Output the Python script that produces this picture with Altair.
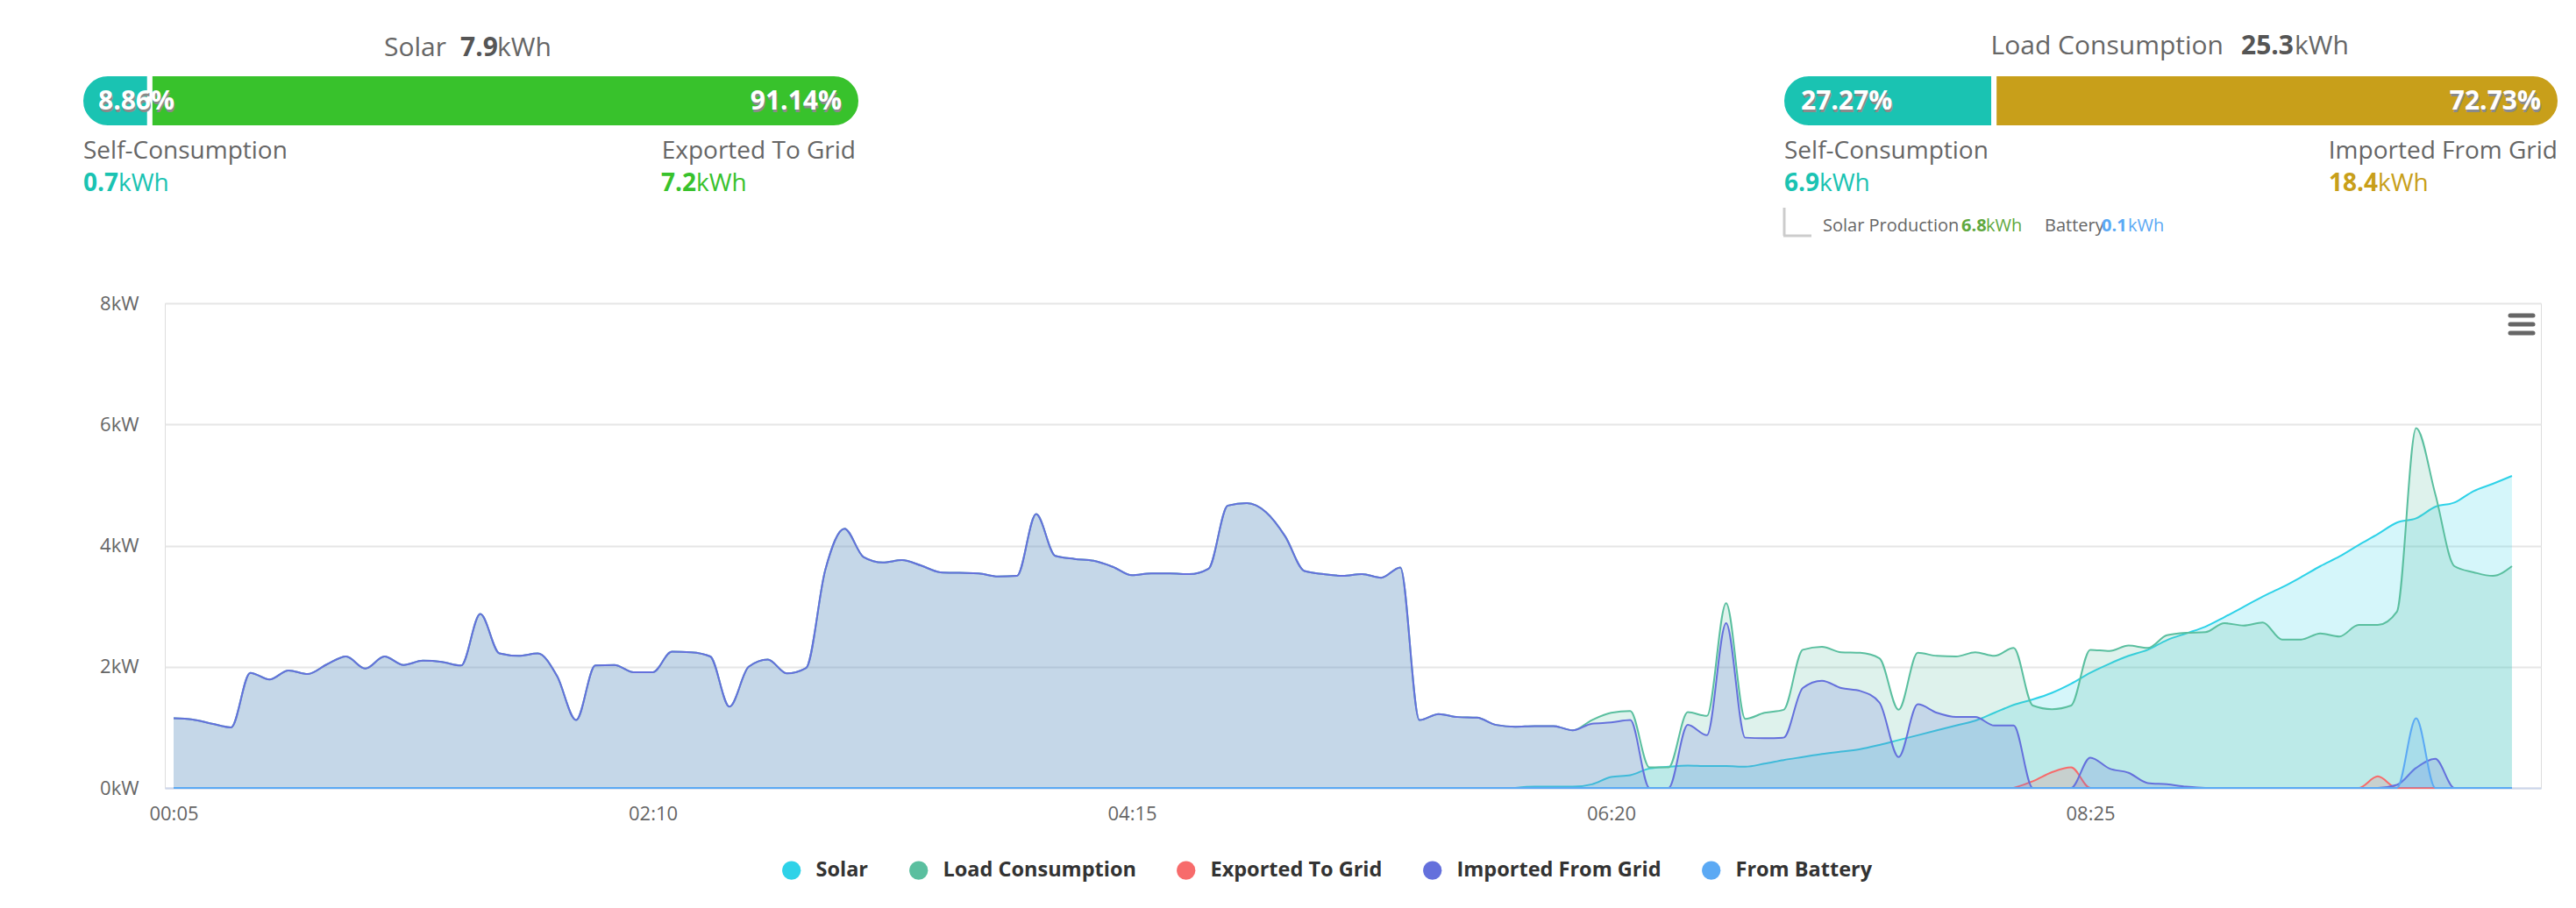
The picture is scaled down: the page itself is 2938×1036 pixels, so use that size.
import altair as alt
import pandas as pd

FONT = "Open Sans"

# ---------------- data ----------------
n_points = 123
times = [f"{(5 + 5 * i) // 60:02d}:{(5 + 5 * i) % 60:02d}" for i in range(n_points)]
tick_labels = ["00:05", "02:10", "04:15", "06:20", "08:25"]

series_names = ["Solar", "Load Consumption", "Exported To Grid", "Imported From Grid", "From Battery"]
series_colors = ["#2ED2E8", "#5ABF9F", "#F76B6B", "#6470DC", "#5BA9F4"]

load = [
    1.15, 1.13, 1.06, 1.00, 1.90, 1.79, 1.94, 1.88, 2.04, 2.17,
    1.97, 2.17, 2.03, 2.10, 2.08, 2.02, 2.87, 2.22, 2.18, 2.22,
    1.85, 1.12, 2.02, 2.03, 1.91, 1.91, 2.25, 2.24, 2.17, 1.34,
    2.00, 2.12, 1.89, 1.98, 3.60, 4.28, 3.81, 3.72, 3.76, 3.67,
    3.56, 3.55, 3.54, 3.49, 3.50, 4.52, 3.83, 3.78, 3.75, 3.65,
    3.51, 3.54, 3.54, 3.53, 3.62, 4.66, 4.70, 4.55, 4.15, 3.58,
    3.53, 3.50, 3.53, 3.47, 3.64, 1.12, 1.22, 1.17, 1.16, 1.04,
    1.01, 1.02, 1.02, 0.95, 1.12, 1.24, 1.27, 0.34, 0.34, 1.25,
    1.19, 3.05, 1.14, 1.24, 1.29, 2.28, 2.33, 2.24, 2.23, 2.14,
    1.29, 2.23, 2.18, 2.17, 2.24, 2.18, 2.31, 1.36, 1.30, 1.36,
    2.28, 2.26, 2.35, 2.31, 2.52, 2.56, 2.57, 2.72, 2.68, 2.73,
    2.45, 2.45, 2.55, 2.50, 2.69, 2.69, 2.91, 5.94, 4.85, 3.66,
    3.56, 3.50, 3.66,
]
imported = [
    1.15, 1.13, 1.06, 1.00, 1.90, 1.79, 1.94, 1.88, 2.04, 2.17,
    1.97, 2.17, 2.03, 2.10, 2.08, 2.02, 2.87, 2.22, 2.18, 2.22,
    1.85, 1.12, 2.02, 2.03, 1.91, 1.91, 2.25, 2.24, 2.17, 1.34,
    2.00, 2.12, 1.89, 1.98, 3.60, 4.28, 3.81, 3.72, 3.76, 3.67,
    3.56, 3.55, 3.54, 3.49, 3.50, 4.52, 3.83, 3.78, 3.75, 3.65,
    3.51, 3.54, 3.54, 3.53, 3.62, 4.66, 4.70, 4.55, 4.15, 3.58,
    3.53, 3.50, 3.53, 3.47, 3.64, 1.12, 1.22, 1.17, 1.16, 1.04,
    1.01, 1.02, 1.02, 0.95, 1.06, 1.08, 1.12, 0.00, 0.00, 1.04,
    0.87, 2.72, 0.83, 0.82, 0.83, 1.65, 1.77, 1.65, 1.60, 1.41,
    0.51, 1.38, 1.24, 1.17, 1.17, 1.03, 1.03, 0.00, 0.00, 0.00,
    0.50, 0.32, 0.25, 0.08, 0.06, 0.02, 0.00, 0.00, 0.00, 0.00,
    0.00, 0.00, 0.00, 0.00, 0.00, 0.00, 0.05, 0.33, 0.48, 0.00,
    0.00, 0.00, 0.00,
]
solar = [None] * 70 + [
    0.00, 0.02, 0.02, 0.02, 0.06, 0.18, 0.21, 0.32, 0.35, 0.37,
    0.36, 0.36, 0.35, 0.40, 0.46, 0.51, 0.56, 0.60, 0.64, 0.71,
    0.79, 0.87, 0.95, 1.03, 1.11, 1.24, 1.37, 1.46, 1.57, 1.72,
    1.90, 2.05, 2.18, 2.28, 2.44, 2.55, 2.66, 2.82, 2.99, 3.16,
    3.31, 3.48, 3.66, 3.82, 4.01, 4.19, 4.38, 4.45, 4.64, 4.71,
    4.90, 5.02, 5.15,
]
exported = [None] * 96 + [
    0.00, 0.11, 0.26, 0.34, 0.00, 0.00, 0.00, 0.00, 0.00, 0.00,
    0.00, 0.00, 0.00, 0.00, 0.00, 0.00, 0.00, 0.00, 0.00, 0.19,
    0.00, 0.00, 0.00, 0.00, 0.00, 0.00, 0.00,
]
battery = [0.0] * 117 + [1.15, 0.00, 0.00, 0.00, 0.00, 0.00]

# summary figures
solar_total = "7.9"
solar_parts = ["Self-Consumption", "Exported To Grid"]
solar_pct = [8.86, 91.14]
solar_kwh = ["0.7", "7.2"]
load_total = "25.3"
load_parts = ["Self-Consumption", "Imported From Grid"]
load_pct = [27.27, 72.73]
load_kwh = ["6.9", "18.4"]
breakdown_names = ["Solar Production", "Battery"]
breakdown_kwh = ["6.8", "0.1"]


def minutes(s):
    h, m = s.split(":")
    return int(h) * 60 + int(m)


rows = []
for name, vals in zip(series_names, [solar, load, exported, imported, battery]):
    for t, v in zip(times, vals):
        if v is not None:
            rows.append({"series": name, "t": minutes(t), "kw": v})
df = pd.DataFrame(rows)

# ---------------- styles ----------------
GRAY = "#666666"
DARK = "#555555"
TEAL = "#1AC3B2"
GREEN = "#38C22C"
GOLD = "#C89F1A"
GREEN2 = "#5FA83E"
BLUE = "#5BA9F4"

# ---------------- main chart ----------------
base = alt.Chart(df).encode(
    x=alt.X(
        "t:Q",
        scale=alt.Scale(domain=[2.71, 622.56], nice=False, zero=False),
        axis=alt.Axis(
            values=[minutes(s) for s in tick_labels],
            labelExpr="utcFormat(datum.value * 60000, '%H:%M')",
            title=None, grid=False, ticks=False, tickSize=0,
            domainColor="#CCD6EB", domainWidth=2,
            labelPadding=19, labelFontSize=22, labelColor=GRAY, labelFont=FONT,
            labelFlush=False,
        ),
    ),
    y=alt.Y(
        "kw:Q", stack=None,
        scale=alt.Scale(domain=[0, 8], nice=False),
        axis=alt.Axis(
            values=[0, 2, 4, 6, 8], labelExpr="datum.value + 'kW'",
            title=None, domain=False, ticks=False, tickSize=0,
            labelPadding=30, labelFontSize=22, labelColor=GRAY, labelFont=FONT,
            gridColor="#E6E6E6", gridWidth=2,
        ),
    ),
    color=alt.Color(
        "series:N",
        scale=alt.Scale(domain=series_names, range=series_colors),
        legend=alt.Legend(
            orient="none", legendX=703, legendY=635, direction="horizontal",
            title=None, symbolType="circle", symbolSize=450, symbolStrokeWidth=0,
            symbolOpacity=1, labelFontSize=23.5, labelFontWeight="bold",
            labelColor="#333333", labelFont=FONT, labelOffset=16, labelLimit=0,
            columnPadding=45, padding=0,
        ),
    ),
)

series_layers = []
for name in series_names:
    b = base.transform_filter(alt.datum.series == name)
    series_layers.append(b.mark_area(interpolate="monotone", fillOpacity=0.2))
    series_layers.append(b.mark_line(interpolate="monotone", strokeWidth=2))
main = alt.layer(*series_layers)


# ---------------- summary bars ----------------
def split_bar(parts, pct, colors, px_range):
    d = pd.DataFrame({
        "part": parts,
        "start": [0, pct[0]],
        "end": [pct[0], pct[0] + pct[1]],
        "col": colors,
    })
    xs = alt.X("start:Q", scale=alt.Scale(domain=[0, 100], range=px_range, nice=False), axis=None)
    left = alt.Chart(d).transform_filter(alt.datum.part == parts[0]).mark_rect(
        cornerRadiusTopLeft=31, cornerRadiusBottomLeft=31, stroke="white", strokeWidth=6
    ).encode(x=xs, x2="end:Q", y=alt.value(-262), y2=alt.value(-200),
             color=alt.Color("col:N", scale=None))
    right = alt.Chart(d).transform_filter(alt.datum.part == parts[1]).mark_rect(
        cornerRadiusTopRight=31, cornerRadiusBottomRight=31, stroke="white", strokeWidth=6
    ).encode(x=xs, x2="end:Q", y=alt.value(-262), y2=alt.value(-200),
             color=alt.Color("col:N", scale=None))
    return alt.layer(left, right)


bars_solar = split_bar(solar_parts, solar_pct, [TEAL, GREEN], [-96, 794])
bars_load = split_bar(load_parts, load_pct, [TEAL, GOLD], [1844, 2732])


def label(text, x, y, size, color, weight="normal", align="left", font=FONT):
    return alt.Chart(pd.DataFrame({"txt": [text]})).mark_text(
        align=align, baseline="middle", fontSize=size, color=color,
        fontWeight=weight, font=font,
    ).encode(x=alt.value(x), y=alt.value(y), text="txt:N")


def pct_label(p, x, y, align):
    s = f"{p:.2f}%"
    return [
        label(s, x + 1, y + 3, 30, "#8A8A8A", "bold", align),
        label(s, x, y, 30, "white", "bold", align),
    ]


texts = []
# Solar panel
texts += [
    label("Solar", 321, -291, 30, GRAY, align="right"),
    label(solar_total, 337, -291, 30, DARK, "bold"),
    label("kWh", 379, -291, 30, GRAY),
]
texts += pct_label(solar_pct[0], -76, -230, "left")
texts += pct_label(solar_pct[1], 772, -230, "right")
texts += [
    label(solar_parts[0], -93, -173, 28, GRAY),
    label(solar_kwh[0], -93, -136, 28, TEAL, "bold"),
    label("kWh", -53, -136, 28, TEAL),
    label(solar_parts[1], 788, -173, 28, GRAY, align="right"),
    label(solar_kwh[1], 566, -136, 28, GREEN, "bold"),
    label("kWh", 606, -136, 28, GREEN),
]
# Load panel
texts += [
    label("Load Consumption", 2348, -293, 30, GRAY, align="right"),
    label(load_total, 2368, -293, 30, DARK, "bold"),
    label("kWh", 2429, -293, 30, GRAY),
]
texts += pct_label(load_pct[0], 1866, -230, "left")
texts += pct_label(load_pct[1], 2710, -230, "right")
texts += [
    label(load_parts[0], 1847, -173, 28, GRAY),
    label(load_kwh[0], 1847, -136, 28, TEAL, "bold"),
    label("kWh", 1887, -136, 28, TEAL),
    label(load_parts[1], 2729, -173, 28, GRAY, align="right"),
    label(load_kwh[1], 2468, -136, 28, GOLD, "bold"),
    label("kWh", 2524, -136, 28, GOLD),
    label(breakdown_names[0], 1891, -88, 20, GRAY),
    label(breakdown_kwh[0], 2049, -88, 20, GREEN2, "bold"),
    label("kWh", 2077, -88, 20, GREEN2),
    label(breakdown_names[1], 2144, -88, 20, GRAY),
    label(breakdown_kwh[1], 2209, -88, 20, BLUE, "bold"),
    label("kWh", 2239, -88, 20, BLUE),
]

one = pd.DataFrame({"k": [0]})
bracket_v = alt.Chart(one).mark_rule(color="#CCCCCC", strokeWidth=3).encode(
    x=alt.value(1847), y=alt.value(-109), y2=alt.value(-77))
bracket_h = alt.Chart(one).mark_rule(color="#CCCCCC", strokeWidth=3).encode(
    x=alt.value(1846), x2=alt.value(1878), y=alt.value(-77))

# menu icon (three bars)
menu = [
    alt.Chart(one).mark_rule(color="#666666", strokeWidth=5, strokeCap="round").encode(
        x=alt.value(2675), x2=alt.value(2701), y=alt.value(yy))
    for yy in (14, 24, 34)
]

chart = (
    alt.layer(main, bars_solar, bars_load, bracket_v, bracket_h, *menu, *texts)
    .resolve_scale(x="independent")
    .properties(
        width=2710, height=553,
        autosize=alt.AutoSizeParams(type="none"),
        padding={"left": 180, "top": 338, "right": 32, "bottom": 129},
        background="white",
    )
    .configure_view(strokeWidth=0, stroke="transparent")
    .configure(font=FONT)
)

chart.save("out.html", embed_options={"renderer": "svg", "actions": False})
